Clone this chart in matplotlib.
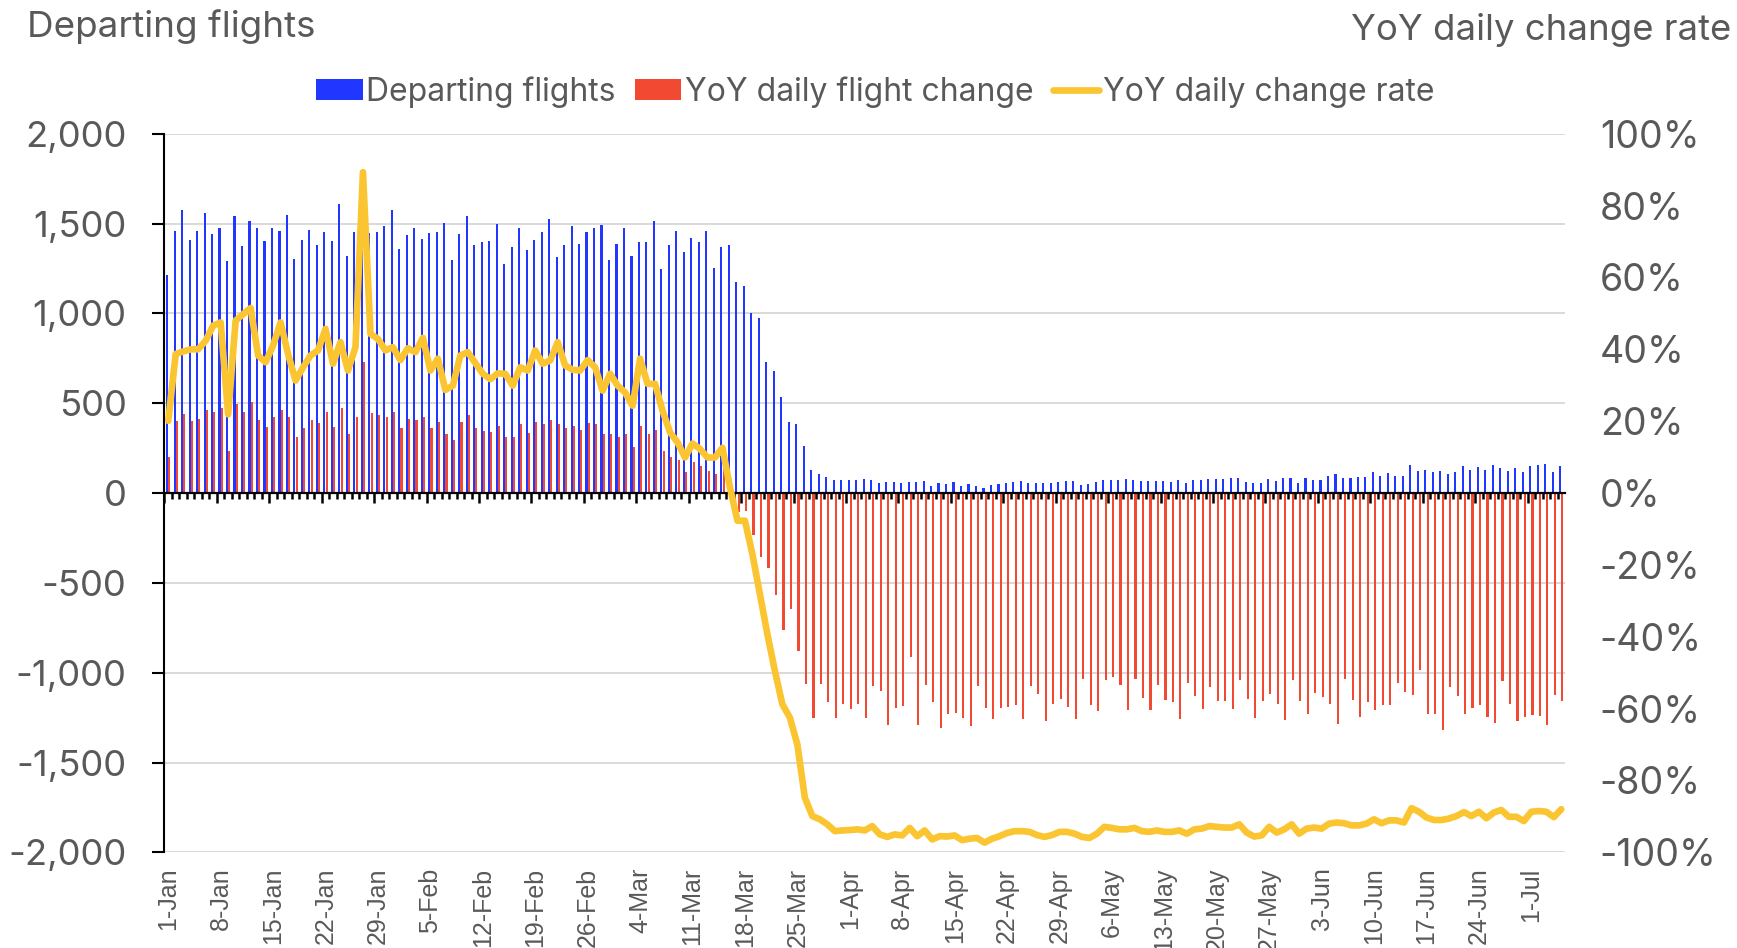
import numpy as np
import pandas as pd
import matplotlib
matplotlib.use('Agg')
import matplotlib.pyplot as plt
from matplotlib.ticker import FuncFormatter
from matplotlib.lines import Line2D
from matplotlib.patches import Patch

# daily data, 1-Jan-2020 .. 5-Jul-2020
dates = pd.date_range('2020-01-01', '2020-07-05', freq='D')

departing = [
    1214, 1460, 1577, 1409, 1460, 1557, 1441, 1478, 1292, 1542,
    1376, 1512, 1473, 1402, 1478, 1460, 1547, 1305, 1409, 1467,
    1382, 1452, 1402, 1609, 1318, 1452, 1540, 1447, 1452, 1486,
    1577, 1357, 1434, 1473, 1415, 1447, 1452, 1504, 1300, 1441,
    1542, 1382, 1397, 1402, 1499, 1274, 1370, 1478, 1352, 1409,
    1452, 1525, 1313, 1383, 1486, 1389, 1452, 1473, 1492, 1300,
    1389, 1478, 1318, 1395, 1395, 1512, 1248, 1382, 1460, 1344,
    1421, 1395, 1460, 1255, 1370, 1382, 1177, 1153, 1004, 972,
    728, 678, 536, 395, 382, 261, 130, 106, 91, 72,
    72, 72, 72, 78, 72, 56, 63, 63, 54, 63,
    63, 69, 41, 56, 50, 63, 41, 50, 41, 28,
    44, 50, 56, 63, 69, 56, 56, 56, 56, 63,
    69, 69, 44, 50, 63, 74, 74, 74, 81, 74,
    69, 69, 69, 69, 63, 74, 56, 74, 74, 78,
    78, 78, 83, 83, 59, 54, 54, 78, 69, 83,
    83, 54, 83, 72, 72, 96, 106, 83, 83, 91,
    91, 119, 96, 109, 96, 96, 156, 124, 130, 119,
    124, 106, 119, 148, 130, 143, 130, 156, 137, 124,
    137, 119, 148, 156, 161, 119, 148,
]

yoy_change = [
    203, 400, 439, 400, 413, 465, 452, 471, 235, 497,
    452, 508, 408, 370, 426, 465, 421, 311, 363, 408,
    389, 452, 370, 471, 330, 421, 728, 445, 432, 421,
    452, 363, 413, 408, 426, 363, 395, 330, 298, 395,
    432, 363, 344, 339, 376, 311, 311, 382, 337, 395,
    382, 408, 382, 363, 376, 350, 389, 382, 331, 326,
    313, 326, 255, 376, 326, 350, 236, 203, 184, 119,
    171, 153, 125, 106, 155, 22, -104, -98, -231, -354,
    -417, -570, -761, -648, -881, -1061, -1252, -1061, -1163, -1252,
    -1176, -1200, -1172, -1252, -1076, -1104, -1289, -1194, -1185, -913,
    -1289, -1067, -1163, -1306, -1228, -1222, -1252, -1296, -1076, -1194,
    -1259, -1194, -1191, -1178, -1259, -1074, -1117, -1270, -1172, -1144,
    -1191, -1259, -1037, -1178, -1215, -1043, -1024, -1067, -1209, -1037,
    -1141, -1209, -1067, -1150, -1163, -1259, -1056, -1131, -1200, -1080,
    -1157, -1157, -1200, -1043, -1145, -1252, -1157, -1120, -1176, -1265,
    -1043, -1157, -1228, -1113, -1135, -1176, -1283, -1033, -1150, -1246,
    -1163, -1206, -1181, -1181, -1056, -1107, -1122, -983, -1228, -1228,
    -1317, -1080, -1131, -1228, -1194, -1181, -1246, -1278, -1048, -1176,
    -1270, -1246, -1233, -1241, -1289, -1126, -1157,
]

yoy_rate = [
    20.1, 38.7, 39.4, 40.0, 40.0, 42.4, 46.6, 47.5, 21.9, 48.0,
    49.8, 51.5, 38.3, 36.4, 41.1, 47.5, 38.7, 31.3, 35.0, 38.3,
    39.7, 45.7, 36.0, 42.0, 34.1, 40.6, 89.3, 44.3, 42.9, 39.7,
    40.6, 37.0, 40.3, 39.2, 43.2, 34.1, 37.4, 28.7, 29.9, 38.3,
    39.2, 36.2, 33.2, 31.7, 33.3, 33.2, 29.9, 35.0, 34.1, 39.7,
    36.0, 36.9, 42.0, 35.5, 34.3, 34.1, 37.0, 35.0, 28.5, 33.2,
    29.9, 28.0, 24.3, 37.4, 30.4, 30.4, 22.9, 16.9, 14.1, 9.9,
    13.8, 12.3, 9.9, 9.9, 12.6, 1.6, -7.7, -7.7, -17.0, -28.1,
    -39.3, -49.5, -58.8, -62.5, -70.0, -84.8, -89.9, -90.8, -92.2, -94.1,
    -93.9, -93.8, -93.6, -93.9, -92.7, -95.0, -95.7, -95.0, -95.3, -93.2,
    -95.5, -93.9, -96.4, -95.5, -95.6, -95.3, -96.6, -96.2, -96.0, -97.3,
    -96.2, -95.5, -94.6, -94.1, -94.1, -94.3, -95.2, -95.7, -95.2, -94.3,
    -94.3, -94.8, -95.7, -96.0, -94.8, -92.9, -93.2, -93.6, -93.6, -93.2,
    -94.1, -94.3, -93.9, -94.3, -94.3, -93.9, -94.8, -93.6, -93.4, -92.7,
    -92.9, -93.1, -93.1, -92.2, -94.5, -95.6, -95.3, -92.9, -94.5, -93.6,
    -92.2, -94.8, -93.4, -93.1, -93.4, -92.0, -91.7, -91.9, -92.5, -92.5,
    -92.0, -90.8, -91.9, -91.1, -91.1, -91.7, -87.7, -88.7, -90.3, -91.0,
    -91.0, -90.6, -89.9, -88.8, -89.9, -88.7, -90.5, -88.9, -88.2, -90.1,
    -90.1, -91.3, -88.7, -88.5, -88.7, -90.2, -88.0,
]

week_labels = ['1-Jan', '8-Jan', '15-Jan', '22-Jan', '29-Jan', '5-Feb', '12-Feb',
               '19-Feb', '26-Feb', '4-Mar', '11-Mar', '18-Mar', '25-Mar', '1-Apr',
               '8-Apr', '15-Apr', '22-Apr', '29-Apr', '6-May', '13-May', '20-May',
               '27-May', '3-Jun', '10-Jun', '17-Jun', '24-Jun', '1-Jul']

assert len(departing) == len(dates) == len(yoy_change) == len(yoy_rate)

BLUE = '#2136ff'
RED = '#f24a32'
YELLOW = '#fbc531'
GREY = '#595959'

plt.rcParams['font.family'] = ['Inter', 'DejaVu Sans']

fig = plt.figure(figsize=(17.37, 9.48), dpi=100)
ax = fig.add_axes([0.0947, 0.1009, 0.8063, 0.758])

x = np.arange(len(dates))
ax.bar(x - 0.15, departing, width=0.28, color=BLUE, linewidth=0)
ax.bar(x + 0.15, yoy_change, width=0.28, color=RED, linewidth=0)

ax.set_xlim(-0.5, len(x) - 0.5)
ax.set_ylim(-2000, 2000)
ax.set_yticks(np.arange(-2000, 2001, 500))
ax.yaxis.set_major_formatter(FuncFormatter(lambda v, p: f'{v:,.0f}'))
ax.grid(axis='y', color='#d9d9d9', lw=1.4)
ax.set_axisbelow(True)
for s in ['top', 'right']:
    ax.spines[s].set_visible(False)
ax.spines['left'].set_linewidth(1.5)
ax.tick_params(axis='y', length=8.4, width=1.5, pad=19, labelsize=26.3, labelcolor=GREY)

# category axis sits on zero, ticks between days
ax.spines['bottom'].set_position(('data', 0))
ax.spines['bottom'].set_linewidth(1.6)
ax.set_xticks(x[::7] - 0.5)
ax.set_xticks(x - 0.5, minor=True)
ax.tick_params(axis='x', which='major', length=7.5, width=1.8, labelbottom=False)
ax.tick_params(axis='x', which='minor', length=4.5, width=1.8)

# date labels at the bottom of the plot
sec = ax.secondary_xaxis('bottom')
sec.spines['bottom'].set_visible(False)
sec.set_xticks(x[::7])
sec.set_xticklabels(week_labels, rotation=90, fontsize=18, color=GREY, family='Liberation Sans')
sec.tick_params(axis='x', length=0, pad=11)

ax2 = ax.twinx()
ax2.plot(x, yoy_rate, color=YELLOW, lw=4.8, solid_joinstyle='round', solid_capstyle='round')
ax2.set_ylim(-100, 100)
ax2.set_yticks(np.arange(-100, 101, 20))
ax2.yaxis.set_major_formatter(FuncFormatter(lambda v, p: f'{v:.0f}%'))
for s in ax2.spines.values():
    s.set_visible(False)
ax2.tick_params(axis='y', length=0, pad=25, labelsize=27, labelcolor=GREY)

fig.text(0.0155, 0.961, 'Departing flights', fontsize=26.5, color=GREY, va='baseline')
fig.text(0.9965, 0.958, 'YoY daily change rate', fontsize=26.3, color=GREY,
         ha='right', va='baseline')

handles = [Patch(facecolor=BLUE, edgecolor='none'),
           Patch(facecolor=RED, edgecolor='none'),
           Line2D([0], [0], color=YELLOW, lw=4.8, solid_capstyle='round')]
fig.legend(handles, ['Departing flights', 'YoY daily flight change', 'YoY daily change rate'],
           ncol=3, loc='center', bbox_to_anchor=(875.5 / 1737, 1 - 92 / 948),
           frameon=False, fontsize=23, handlelength=1.45, handleheight=0.65,
           handletextpad=0.12, columnspacing=0.6, labelcolor=GREY)

fig.savefig('out.png', dpi=100)
